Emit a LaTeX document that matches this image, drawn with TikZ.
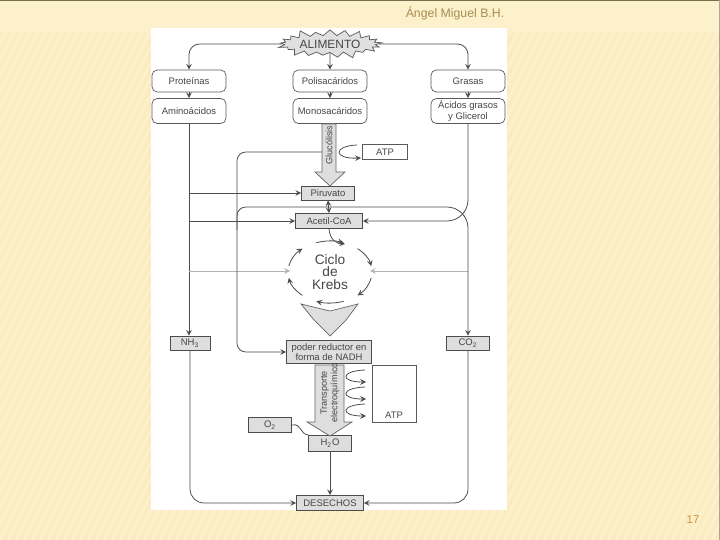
\documentclass[tikz,border=0pt]{standalone}
\usepackage{fontspec}
\setmainfont{Liberation Sans}
\usetikzlibrary{arrows,shapes.symbols}

\definecolor{fondo}{RGB}{253,241,204}
\definecolor{raya}{RGB}{246,226,170}
\definecolor{borde}{RGB}{118,108,78}
\definecolor{titulo}{RGB}{168,140,82}
\definecolor{numero}{RGB}{204,146,66}
\definecolor{texto}{RGB}{70,70,70}

\begin{document}
\begin{tikzpicture}[x=0.02cm,y=-0.02cm,>=stealth,
  caja/.style={draw=black!65,fill=white,rounded corners=3pt,inner sep=0pt,
    minimum width=1.48cm,align=center,text=texto,font=\fontsize{5.4}{6.2}\selectfont},
  gris/.style={draw=black!70,fill=black!13,inner sep=0pt,align=center,
    text=texto,font=\fontsize{5.4}{5.9}\selectfont},
  blanca/.style={draw=black!65,fill=white,inner sep=0pt,text=texto,
    font=\fontsize{5.4}{6}\selectfont},
  flecha/.style={draw=black!60,fill=black!13,line width=0.4pt},
  linea/.style={draw=black!70,line width=0.45pt},
  tenue/.style={draw=black!30,line width=0.45pt}]
\useasboundingbox (0,0) rectangle (720,540);

% fondo de la diapositiva
\fill[fondo] (0,0) rectangle (720,540);
\begin{scope}
\clip (0,34) rectangle (720,540);
\foreach \i in {-300,-292,...,720}
  \draw[raya,line width=2pt,opacity=0.35] (\i,540) -- (\i+255,30);
\end{scope}
\draw[borde,line width=1.2pt] (0,0) -- (720,0);
\draw[borde!60,line width=0.6pt] (719.5,0) -- (719.5,540);
\node[text=titulo,font=\fontsize{7}{8}\selectfont] (autor) at (455,13) {Ángel Miguel B.H.};
\node[text=numero,font=\fontsize{6.5}{7}\selectfont] (pag) at (693,520) {17};

% hoja del esquema
\fill[white] (151,28) rectangle (507,510);

% nodos
\node[starburst,starburst points=21,starburst point height=4.5pt,draw=black!65,
  fill=black!12,minimum width=1.8cm,minimum height=0.56cm,inner sep=1pt,
  text=texto,font=\fontsize{6.8}{7}\selectfont] (alim) at (330,44) {ALIMENTO};

\node[caja,minimum height=0.44cm] (prot) at (189,81) {Proteínas};
\node[caja,minimum height=0.44cm] (poli) at (330,81) {Polisacáridos};
\node[caja,minimum height=0.44cm] (gras) at (468,81) {Grasas};
\node[caja,minimum height=0.5cm] (amino) at (189,111) {Aminoácidos};
\node[caja,minimum height=0.5cm] (mono) at (330,111) {Monosacáridos};
\node[caja,minimum height=0.5cm] (acid) at (468,111) {Ácidos grasos\\y Glicerol};

\node[blanca,minimum width=0.9cm,minimum height=0.3cm] (atpa) at (385,152) {ATP};
\node[gris,minimum width=1.06cm,minimum height=0.28cm] (piru) at (328,193) {Piruvato};
\node[gris,minimum width=1.34cm,minimum height=0.3cm] (acet) at (329,221) {Acetil-CoA};

\node[align=center,text=texto,font=\fontsize{7.8}{7.2}\selectfont] (kc) at (330,272) {Ciclo\\de\\Krebs};

\node[gris,minimum width=0.8cm,minimum height=0.28cm] (nh3) at (190,343) {NH\textsubscript{3}};
\node[gris,minimum width=0.86cm,minimum height=0.28cm] (co2) at (468,343) {CO\textsubscript{2}};
\node[gris,minimum width=1.7cm,minimum height=0.46cm] (nadh) at (329,352) {poder reductor en\\forma de NADH};

\node[blanca,minimum width=0.88cm,minimum height=1.14cm] (atpb) at (394,394) {};
\node[text=texto,font=\fontsize{5.4}{6}\selectfont] (atpbt) at (394,415) {ATP};
\node[gris,minimum width=0.86cm,minimum height=0.3cm] (o2) at (270,425) {O\textsubscript{2}};
\node[gris,minimum width=0.86cm,minimum height=0.32cm] (h2o) at (330,443) {H\textsubscript{2}O};
\node[gris,minimum width=1.34cm,minimum height=0.3cm] (dese) at (330,503) {DESECHOS};

% flechas anchas
\filldraw[flecha] (322,124) -- (336,124) -- (336,172) -- (345,172) -- (330,186)
  -- (315,172) -- (322,172) -- cycle;
\node[rotate=90,text=texto,font=\fontsize{5.2}{6}\selectfont] (gluc) at (329,145) {Glucólisis};

\filldraw[flecha] (301,304) -- (330,311) -- (358,304) -- (346,320) -- (330,336)
  -- (314,320) -- cycle;

\filldraw[flecha] (315,365) -- (344,365) -- (344,422) -- (352,422) -- (330,436)
  -- (307,422) -- (315,422) -- cycle;
\node[rotate=90,align=center,text=texto,font=\fontsize{5.2}{6}\selectfont] (trans) at (330,393) {Transporte\\electroquímico};

% conexiones
\draw[linea,->,rounded corners=6pt] (alim.west) -| (prot.north);
\draw[linea,->,rounded corners=6pt] (alim.east) -| (gras.north);
\draw[linea,->] (alim.south) -- (poli.north);
\draw[linea,->] (prot) -- (amino);
\draw[linea,->] (poli) -- (mono);
\draw[linea,->] (gras) -- (acid);

\draw[linea,->] (amino.south) -- (amino.south |- nh3.north);
\draw[linea,->] (amino.south |- piru.west) -- (piru.west);
\draw[linea,->] (amino.south |- acet.west) -- (acet.west);
\coordinate (kizq) at (290,271);
\coordinate (kder) at (370,271);
\draw[tenue,->] (amino.south |- kizq) -- (kizq);
\draw[tenue,->] (acid.south |- kder) -- (kder);

\draw[linea,->,rounded corners=12pt] (acid.south) |- (acet.east);

\coordinate (g1) at (322,152);
\draw[linea,->,rounded corners=5pt] (g1) -| (237,200) |- (nadh.west);
\coordinate (atpin) at (361,158);
\draw[linea,->] (357,145) .. controls (333,146) and (333,159) .. (atpin);

\draw[linea,<->] (acet.north) -- (piru.south);
\coordinate (jn) at (330,207);
\draw[linea,rounded corners=5pt] (jn) -| (237,230);
\draw[linea,->,rounded corners=12pt] (jn) -| (co2.north);

\coordinate (kin) at (345,244);
\draw[linea,->] (acet.south) .. controls (330,240) and (336,243) .. (kin);

% ciclo de Krebs
\foreach \a in {-90,-30,30,90,150,210}
  \draw[linea,->] (kc) ++(\a-19:42 and 31) arc (\a-19:\a+19:42 and 31);

% ATP del transporte
\foreach \y in {370,387,404}
  \draw[linea,->] (365,\y) .. controls (340,\y+1) and (340,\y+12) .. (366,\y+12);

\draw[linea] (o2.east) .. controls (302,423) and (300,435) .. (h2o.north west);
\draw[linea,->] (h2o) -- (dese);
\draw[linea,->,rounded corners=8pt] (nh3.south) |- (dese.west);
\draw[linea,->,rounded corners=8pt] (co2.south) |- (dese.east);
\end{tikzpicture}
\end{document}
